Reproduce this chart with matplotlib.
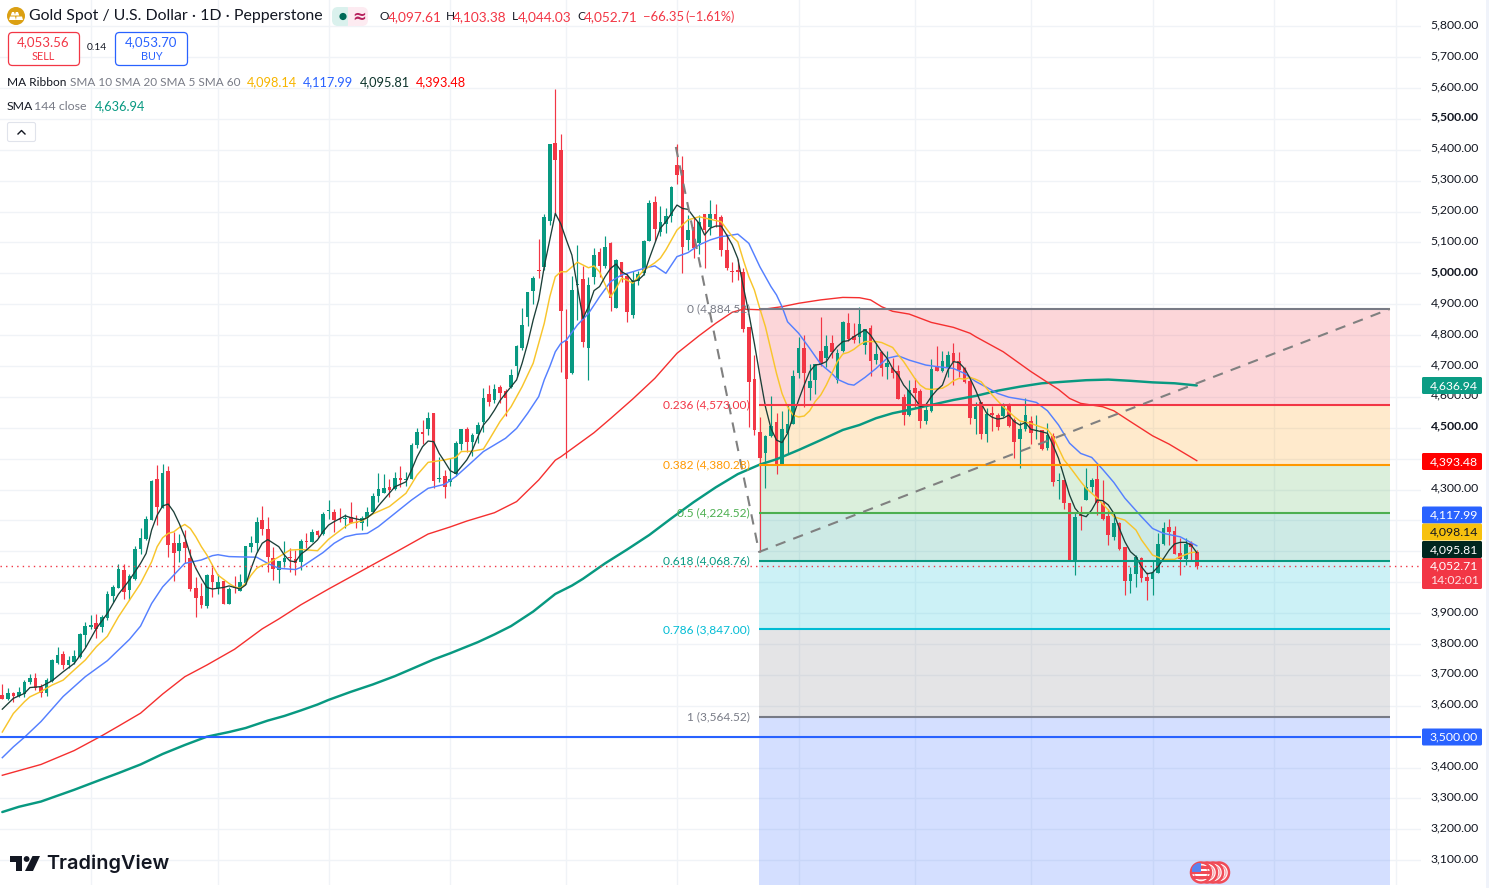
import matplotlib
matplotlib.use("Agg")
import matplotlib.pyplot as plt
from matplotlib.patches import Rectangle, FancyBboxPatch, Circle, Polygon

plt.rcParams['font.family'] = ['Lato', 'DejaVu Sans']

# Daily OHLC, oldest bar first
opens = [
    3635,3621,3642,3631,3638,3676,3690,3662,3642,3681,
    3740,3766,3732,3742,3759,3829,3854,3868,3854,3883,
    3955,3980,4039,3974,4010,4107,4140,4203,4334,4239,
    4360,4126,4100,4131,4080,3980,3955,3923,4023,3980,
    4004,3931,3988,3972,3996,4115,4127,4203,4171,4080,
    4041,4066,4083,4075,4067,4133,4131,4166,4156,4232,
    4226,4204,4204,4210,4195,4191,4207,4226,4280,4290,
    4307,4301,4336,4332,4335,4444,4486,4496,4547,4334,
    4344,4326,4349,4447,4497,4455,4479,4518,4609,4590,
    4631,4620,4633,4700,4757,4860,4943,5011,5019,5169,
    5423,5399,4781,4676,4963,4981,4759,4989,5069,5024,
    5099,4889,5036,4992,4865,4976,5000,5106,5230,5135,
    5160,5187,5351,5334,5108,5151,5097,5191,5149,5192,
    5181,5075,5009,5011,5003,4827,4658,4485,4417,4474,
    4518,4383,4482,4512,4676,4757,4628,4655,4749,4725,
    4776,4655,4749,4840,4797,4795,4768,4823,4719,4746,
    4696,4692,4685,4601,4541,4628,4619,4523,4555,4700,
    4685,4695,4743,4716,4695,4650,4528,4582,4480,4549,
    4541,4539,4576,4525,4463,4495,4522,4490,4493,4433,
    4473,4328,4331,4255,4069,4221,4266,4307,4334,4258,
    4214,4147,4193,4114,4005,4027,4077,4016,4010,4031,
    4124,4178,4165,4096,4074,4126,4097.61]
highs = [
    3672,3656,3645,3662,3685,3703,3705,3672,3689,3750,
    3789,3778,3761,3782,3836,3871,3894,3897,3894,3972,
    3991,4059,4059,4025,4117,4177,4215,4331,4379,4382,
    4376,4161,4156,4169,4109,4018,3998,4025,4050,4028,
    4004,3985,4020,4025,4117,4150,4210,4246,4210,4113,
    4068,4133,4110,4104,4140,4158,4171,4169,4228,4266,
    4236,4241,4220,4260,4218,4214,4245,4288,4352,4350,
    4333,4358,4376,4356,4450,4500,4525,4550,4547,4404,
    4363,4401,4458,4495,4504,4482,4518,4628,4638,4642,
    4638,4624,4689,4768,4887,4941,4992,5111,5192,5419,
    5597,5451,4883,4992,5092,5024,4989,5083,5081,5121,
    5101,5046,5038,5000,5009,5009,5108,5237,5250,5218,
    5210,5283,5419,5380,5189,5180,5189,5191,5237,5224,
    5189,5127,5038,5046,5016,4827,4736,4536,4477,4603,
    4547,4554,4574,4687,4795,4800,4706,4706,4860,4800,
    4800,4754,4847,4870,4838,4890,4819,4833,4773,4749,
    4749,4725,4703,4609,4655,4660,4624,4577,4722,4765,
    4749,4749,4775,4746,4698,4660,4582,4582,4563,4570,
    4549,4579,4579,4531,4520,4595,4538,4541,4493,4514,
    4482,4352,4331,4255,4223,4247,4369,4336,4382,4331,
    4236,4223,4196,4114,4050,4088,4083,4034,4072,4158,
    4196,4205,4183,4142,4142,4135,4103.38]
lows = [
    3621,3618,3613,3629,3629,3672,3651,3629,3631,3678,
    3735,3718,3721,3735,3756,3789,3850,3820,3840,3879,
    3937,3980,3947,3944,4007,4091,4136,4201,4185,4239,
    4082,4004,4066,4061,3972,3888,3915,3917,3953,3961,
    3929,3929,3966,3972,3994,4099,4099,4152,4034,4007,
    3998,4050,4034,4023,4040,4112,4129,4147,4153,4204,
    4163,4196,4174,4191,4174,4169,4182,4223,4261,4288,
    4275,4298,4309,4311,4333,4433,4447,4477,4304,4326,
    4274,4311,4345,4428,4423,4409,4450,4487,4570,4579,
    4581,4538,4628,4665,4752,4829,4901,4984,5011,5156,
    5189,4682,4403,4674,4849,4763,4655,4965,4989,5016,
    4879,4887,4973,4843,4854,4962,4995,5106,5106,5122,
    5132,5167,5288,5000,5075,5049,5062,5016,5124,5151,
    5057,5011,4971,4978,4809,4504,4477,4098,4306,4471,
    4349,4380,4419,4512,4660,4568,4590,4609,4700,4698,
    4725,4646,4746,4782,4776,4776,4739,4668,4706,4668,
    4658,4660,4593,4509,4538,4563,4500,4512,4552,4685,
    4682,4665,4638,4665,4646,4512,4480,4464,4455,4490,
    4493,4536,4504,4403,4369,4490,4447,4464,4428,4428,
    4312,4269,4238,4069,4023,4169,4266,4293,4218,4201,
    4120,4137,4104,3959,3966,3986,4002,3942,3959,4031,
    4121,4121,4091,4023,4056,4072,4044.03]
closes = [
    3622,3640,3631,3643,3678,3690,3658,3642,3685,3748,
    3764,3732,3748,3761,3832,3858,3863,3850,3888,3961,
    3985,4042,3969,4020,4109,4143,4206,4328,4244,4355,
    4120,4093,4126,4111,3978,3950,3926,4023,4001,4000,
    3931,3978,3980,4000,4116,4127,4195,4171,4082,4042,
    4068,4079,4079,4063,4133,4131,4161,4153,4221,4234,
    4201,4201,4207,4193,4191,4207,4226,4279,4302,4304,
    4298,4336,4331,4334,4444,4486,4479,4530,4329,4336,
    4309,4334,4450,4495,4455,4477,4509,4596,4582,4625,
    4614,4595,4671,4766,4833,4938,4986,5009,5183,5419,
    5367,4879,4659,4946,4965,4779,4962,5059,5024,5086,
    4921,5043,4989,4876,4978,4998,5106,5228,5142,5165,
    5187,5280,5318,5086,5140,5081,5167,5140,5192,5175,
    5075,5016,5005,5003,4819,4649,4493,4401,4473,4506,
    4377,4496,4512,4668,4758,4678,4651,4706,4706,4765,
    4746,4743,4841,4786,4784,4836,4819,4717,4739,4692,
    4709,4678,4593,4541,4622,4611,4522,4558,4690,4685,
    4716,4736,4714,4687,4649,4533,4568,4480,4545,4540,
    4504,4572,4507,4454,4495,4541,4484,4493,4431,4477,
    4325,4331,4255,4069,4210,4215,4309,4331,4255,4204,
    4153,4191,4108,4003,4027,4081,4015,4005,4029,4124,
    4176,4163,4091,4075,4124,4115,4052.71]

# Moving averages, as bar index / value pairs
sma5_bars = [0,2,4,5,7,9,11,13,15,17,19,21,23,25,26,27,28,29,30,31,32,33,34,35,36,37,38,40,41,43,44,45,46,47,48,50,51,52,53,54,55,57,58,59,60,62,63,65,66,67,68,70,71,73,74,75,76,77,78,79,80,81,82,83,84,85,86,87,88,89,90,91,92,93,94,95,96,97,98,99,100,101,102,103,104,105,106,107,108,109,110,111,112,113,114,115,116,117,118,119,120,121,122,123,124,125,126,127,128,129,130,131,132,133,134,135,136,137,138,139,140,141,142,143,144,145,146,147,148,149,150,151,152,153,154,155,156,157,158,159,160,161,162,163,164,165,166,167,168,169,170,171,172,173,174,175,176,177,178,179,180,181,182,183,184,185,186,187,188,189,190,191,192,193,194,195,196,197,198,199,200,201,202,203,204,205,206,207,208,209,210,211,212,213,214,215,216]
sma5_vals = [3589,3624,3640,3659,3662,3681,3710,3737,3786,3850,3899,3961,4007,4061,4093,4169,4217,4247,4253,4228,4190,4147,4088,4045,4012,3983,3978,3983,3988,3978,3991,4045,4093,4126,4138,4115,4088,4069,4066,4091,4104,4137,4164,4185,4196,4215,4209,4201,4209,4223,4247,4288,4309,4325,4363,4406,4439,4457,4455,4417,4390,4361,4352,4374,4396,4428,4471,4509,4530,4557,4588,4611,4633,4655,4709,4773,4849,4914,5022,5108,5194,5160,5108,5059,4957,4854,4892,4944,4957,4989,5016,5030,5005,4995,4973,4978,4995,5048,5097,5146,5167,5194,5221,5210,5207,5183,5162,5124,5146,5153,5153,5124,5092,5048,4957,4870,4773,4668,4568,4498,4460,4452,4482,4536,4590,4638,4682,4703,4706,4714,4741,4763,4779,4782,4795,4806,4817,4800,4773,4746,4725,4692,4671,4638,4617,4595,4568,4574,4601,4622,4638,4687,4714,4711,4692,4660,4622,4579,4547,4534,4528,4531,4541,4520,4509,4517,4495,4491,4487,4482,4444,4401,4342,4282,4239,4218,4212,4234,4266,4264,4250,4223,4174,4131,4099,4083,4050,4027,4031,4050,4077,4104,4124,4129,4129,4120,4095.81]

sma10_bars = [0,2,4,5,7,9,11,13,15,17,19,21,23,25,27,28,29,30,31,32,33,34,35,36,37,38,39,41,42,43,44,45,46,47,48,50,52,54,57,59,62,63,65,67,70,73,75,77,80,82,83,85,87,88,90,92,94,96,98,99,100,101,102,104,106,107,108,110,111,112,113,114,115,116,118,119,120,121,122,124,126,128,130,132,133,134,135,136,137,138,139,140,141,142,143,144,145,146,147,148,149,150,151,152,153,154,155,156,158,159,160,161,162,163,164,165,166,167,168,170,171,172,173,174,175,176,177,179,181,183,184,186,189,190,192,193,195,196,198,200,201,203,205,206,208,210,212,213,215,216]
sma10_vals = [3515,3575,3613,3629,3646,3667,3683,3716,3748,3791,3825,3888,3942,3996,4066,4115,4144,4158,4163,4177,4187,4174,4147,4115,4088,4055,4023,3996,3985,3980,3996,4023,4045,4055,4061,4082,4104,4106,4102,4139,4180,4191,4198,4221,4245,4288,4347,4388,4396,4404,4423,4424,4431,4460,4520,4568,4633,4709,4838,4924,4989,5005,5005,5036,5018,5024,5005,4924,4951,4984,4978,4968,4989,5011,5034,5049,5076,5108,5140,5173,5183,5175,5167,5119,5102,5043,4989,4946,4885,4827,4752,4676,4611,4568,4541,4535,4538,4555,4585,4606,4638,4676,4714,4739,4744,4754,4768,4779,4779,4776,4768,4760,4736,4714,4687,4660,4638,4626,4624,4628,4638,4652,4660,4657,4663,4657,4649,4606,4568,4536,4522,4514,4495,4471,4396,4374,4326,4304,4272,4234,4212,4201,4169,4137,4088,4074,4074,4083,4096,4098.14]

sma20_bars = [0,2,4,7,11,15,19,23,25,27,29,31,33,36,38,39,41,43,46,48,50,53,54,56,58,60,62,64,66,68,71,74,77,80,82,84,87,91,93,95,97,98,99,100,101,102,104,106,108,110,112,114,116,118,120,122,124,126,128,130,131,133,135,137,139,140,141,142,144,146,148,150,151,153,154,156,158,160,162,164,167,169,172,174,176,178,180,182,185,187,189,191,193,195,197,199,201,203,206,208,210,213,216]
sma20_vals = [3432,3467,3498,3549,3630,3694,3746,3815,3858,3931,3985,4023,4061,4072,4086,4089,4083,4082,4081,4061,4045,4041,4048,4072,4096,4126,4147,4155,4158,4180,4223,4266,4304,4317,4342,4374,4423,4466,4498,4547,4601,4655,4698,4746,4773,4784,4833,4870,4924,4973,4995,5005,5016,5024,5000,5054,5067,5092,5108,5119,5121,5127,5097,5021,4957,4930,4892,4843,4806,4757,4706,4676,4657,4641,4638,4663,4692,4725,4733,4719,4703,4698,4692,4676,4650,4631,4611,4599,4590,4582,4555,4509,4450,4417,4404,4365,4323,4272,4212,4174,4158,4147,4117.99]

sma60_bars = [0,3,7,13,18,21,25,29,33,37,42,47,50,54,59,65,72,77,81,84,89,93,97,100,101,105,107,110,114,118,122,126,129,132,134,137,141,144,148,152,155,157,159,161,164,168,172,175,176,181,186,189,191,193,195,199,201,204,208,211,216]
sma60_vals = [3375,3390,3410,3455,3503,3534,3576,3638,3694,3732,3783,3849,3881,3927,3978,4037,4106,4156,4179,4198,4225,4261,4331,4395,4406,4458,4484,4530,4593,4660,4741,4798,4838,4874,4884,4882,4892,4903,4914,4922,4921,4914,4892,4877,4868,4841,4825,4806,4795,4746,4682,4647,4624,4595,4579,4568,4555,4520,4474,4447,4393.48]

sma144_bars = [0,3,7,10,13,18,21,25,29,33,37,41,44,48,51,54,57,59,63,67,71,74,78,81,86,89,92,96,100,103,105,109,113,117,121,125,129,133,137,140,144,148,152,155,158,161,164,168,172,176,180,184,188,192,196,200,204,208,212,216]
sma144_vals = [3256,3273,3290,3309,3328,3362,3382,3410,3444,3473,3500,3515,3528,3552,3567,3585,3604,3619,3645,3669,3696,3719,3750,3770,3806,3831,3858,3905,3962,3989,4011,4061,4106,4153,4207,4259,4307,4350,4381,4398,4428,4460,4493,4509,4531,4547,4558,4574,4590,4603,4620,4633,4644,4649,4654,4656,4652,4647,4644,4636.94]

# Fibonacci retracement drawn across the right-hand part of the chart
fib_ratios = ['0', '0.236', '0.382', '0.5', '0.618', '0.786', '1']
fib_prices = [4884.52, 4573.00, 4380.28, 4224.52, 4068.76, 3847.00, 3564.52]
fib_colors = ['#787b86', '#f23645', '#ff9800', '#4caf50', '#089981', '#00bcd4', '#787b86']
band_colors = ['#f23645', '#ff9800', '#4caf50', '#089981', '#00bcd4', '#787b86', '#2962ff']
fib_start, fib_end = 136.85, 250.9

# Zig-zag trend line
trend_bars = [121.8, 136.85, 250.9]
trend_prices = [5409, 4098, 4884.52]

support_level = 3500.0
last_price = 4052.71

axis_levels = [5800,5700,5600,5500,5400,5300,5200,5100,5000,4900,4800,4700,4600,4500,4400,
               4300,4200,4100,4000,3900,3800,3700,3600,3500,3400,3300,3200,3100]
major_levels = [5500, 5000, 4500]
tagged_levels = [4400, 4200, 4100, 4000, 3500]
month_starts = [16, 39, 59, 81, 102, 122, 144, 165, 186, 208, 230, 252]

UP, DOWN = '#089981', '#f23645'
GRID = '#f0f3f7'
INK = '#131722'

W, H = 1489, 888
PLOT_R, PLOT_B = 1421, 885
BAR_STEP = 5.53
fig = plt.figure(figsize=(W / 100, H / 100), dpi=100, facecolor='white')
ax = fig.add_axes([0, 1 - PLOT_B / H, PLOT_R / W, PLOT_B / H])
ax.set_xlim(-2.3 / BAR_STEP, (PLOT_R - 2.3) / BAR_STEP)
ax.set_ylim(5884.8 - 3.2373 * PLOT_B, 5884.8)
for s in ax.spines.values():
    s.set_visible(False)

# Gridlines on round prices and month starts
ax.set_yticks(axis_levels)
ax.set_xticks(month_starts)
ax.tick_params(length=0, labelbottom=False, labelleft=False)
ax.grid(True, color=GRID, lw=1)
ax.set_axisbelow(True)

# Price scale on the right; round levels are heavier, levels under a price tag stay unlabelled
for v in axis_levels:
    if v not in tagged_levels:
        ax.annotate(f'{v:,.2f}', (1, v), xycoords=ax.get_yaxis_transform(), xytext=(7, 1.1),
                    textcoords='offset points', ha='left', va='center', fontsize=8.8, color=INK,
                    fontweight='bold' if v in major_levels else 'normal', annotation_clip=False)

# Fibonacci bands sit behind the price series
band_edges = fib_prices + [ax.get_ylim()[0]]
for top, bot, col in zip(band_edges[:-1], band_edges[1:], band_colors):
    ax.fill_between([fib_start, fib_end], bot, top, color=col, alpha=0.2, lw=0, zorder=2)

# Candles
bars = range(len(opens))
colors = [UP if c >= o else DOWN for o, c in zip(opens, closes)]
ax.vlines(bars, lows, highs, colors=colors, lw=0.85, zorder=3)
ax.bar(bars, [max(abs(c - o), 3) for o, c in zip(opens, closes)],
       bottom=[min(o, c) for o, c in zip(opens, closes)],
       width=0.66, color=colors, lw=0, zorder=3)

# Moving averages
ax.plot(sma144_bars, sma144_vals, color='#089981', lw=1.75, zorder=4, solid_capstyle='round')
ax.plot(sma60_bars, sma60_vals, color='#f52f2f', lw=1.0, zorder=4)
ax.plot(sma20_bars, sma20_vals, color='#5580ff', lw=1.05, zorder=4)
ax.plot(sma10_bars, sma10_vals, color='#f8c52c', lw=1.05, zorder=4)
ax.plot(sma5_bars, sma5_vals, color='#1b3f38', lw=0.95, zorder=4)

# Fibonacci levels and their captions
for ratio, price, col in zip(fib_ratios, fib_prices, fib_colors):
    ax.plot([fib_start, fib_end], [price, price], color=col, lw=1.5, zorder=6, solid_capstyle='butt')
    ax.annotate(f'{ratio} ({price:,.2f})', (fib_start, price), xytext=(-6.5, 0),
                textcoords='offset points', ha='right', va='center',
                fontsize=8.6, color=col, zorder=8)

ax.plot(trend_bars, trend_prices, color='#808080', lw=1.5, dashes=(5, 4), zorder=6)
ax.axhline(support_level, color='#2962ff', lw=1.5, zorder=7)
ax.axhline(last_price, color='#f23645', lw=1.0, dashes=(1, 3), zorder=7)

# Overlay in pixel coordinates for the header, price tags and logo
ov = fig.add_axes([0, 0, 1, 1], facecolor='none')
ov.set_xlim(0, W)
ov.set_ylim(H, 0)
ov.axis('off')


def txt(x, y, s, color=INK, size=8.8, ha='left', **kw):
    return ov.text(x, y, s, color=color, fontsize=size, ha=ha, va='center', **kw)


# Price tags on the scale
tags = [
    (385.5, '4,636.94', '#0b9c84', 'white'),
    (461.5, '4,393.48', '#ff0000', 'white'),
    (515, '4,117.99', '#2962ff', 'white'),
    (532, '4,098.14', '#f7c10e', INK),
    (549.5, '4,095.81', '#00261f', 'white'),
    (737, '3,500.00', '#2962ff', 'white'),
]
for yc, s, bg, fg in tags:
    ov.add_patch(FancyBboxPatch((1423, yc - 7.5), 58, 15, boxstyle='round,pad=1,rounding_size=1.5',
                                fc=bg, ec='none', zorder=5))
    txt(1430, yc, s, color=fg, zorder=6)
ov.add_patch(FancyBboxPatch((1423, 559), 58, 29, boxstyle='round,pad=1,rounding_size=1.5',
                            fc='#f23645', ec='none', zorder=5))
txt(1430, 566, '4,052.71', color='white', zorder=6)
txt(1430, 580, '14:02:01', color='#ffe0e3', zorder=6)
ov.add_patch(Rectangle((1486, 0), 3, H, fc='#f0f3fa', ec='none', zorder=1))

# Symbol header
ov.add_patch(Circle((16, 16), 9, fc='#dba013', ec='none'))
for pts in ([(12, 12), (14, 12), (15.3, 15.5), (10.7, 15.5)],
            [(15.8, 12), (18, 12), (19.3, 15.5), (14.8, 15.5)],
            [(10, 16.5), (15, 16.5), (16, 20), (9, 20)],
            [(16.5, 16.5), (22, 16.5), (23, 20), (16, 20)]):
    ov.add_patch(Polygon(pts, fc='white', ec='none'))
txt(29, 16, 'Gold Spot / U.S. Dollar · 1D · Pepperstone', size=11.45)
ov.add_patch(FancyBboxPatch((334, 9), 16, 15, boxstyle='round,pad=2,rounding_size=6', fc='#daf1ed', ec='none'))
ov.add_patch(FancyBboxPatch((352, 9), 14, 15, boxstyle='round,pad=2,rounding_size=6', fc='#fdebf1', ec='none'))
ov.add_patch(Rectangle((348, 7), 6, 19, fc='#fdebf1', ec='none'))
ov.add_patch(Circle((343, 16.5), 3.6, fc='#006a58', ec='none'))
txt(359, 16.5, '≈', color='#b7225e', size=12, ha='center', family=['DejaVu Sans'], fontweight='bold')
for x, s, c, sz in [(380, 'O', INK, 8.6), (388, '4,097.61', DOWN, 9.8), (446, 'H', INK, 8.6), (453, '4,103.38', DOWN, 9.8),
                    (512, 'L', INK, 8.6), (518, '4,044.03', DOWN, 9.8), (577, 'C', INK, 8.6), (584, '4,052.71', DOWN, 9.8),
                    (643, '−66.35', DOWN, 9.4), (685, '(−1.61%)', DOWN, 9.1)]:
    txt(x, 17, s, color=c, size=sz)

# Quote buttons
ov.add_patch(FancyBboxPatch((10, 34), 68, 30, boxstyle='round,pad=1.5,rounding_size=4', fc='white', ec=DOWN, lw=0.9))
ov.add_patch(FancyBboxPatch((117, 34), 69, 30, boxstyle='round,pad=1.5,rounding_size=4', fc='white', ec='#2962ff', lw=0.9))
txt(43.5, 42, '4,053.56', color=DOWN, ha='center', size=9.5)
txt(43.5, 56, 'SELL', color=DOWN, ha='center', size=7.8)
txt(97, 48, '0.14', ha='center', size=7.4)
txt(151.5, 42, '4,053.70', color='#2962ff', ha='center', size=9.5)
txt(151.5, 56, 'BUY', color='#2962ff', ha='center', size=7.8)

# Indicator legend
txt(7, 82.5, 'MA Ribbon', size=8.6)
txt(70, 82.5, 'SMA 10 SMA 20 SMA 5 SMA 60', color='#787b86', size=8.45)
for x, s, c in [(247, '4,098.14', '#f7b500'), (303, '4,117.99', '#2962ff'),
                (360, '4,095.81', '#0c332b'), (416, '4,393.48', '#ff0000')]:
    txt(x, 82.5, s, color=c, size=9.2)
txt(7, 106.5, 'SMA', size=8.8)
txt(34, 106.5, '144 close', color='#787b86', size=8.9)
txt(95, 106.5, '4,636.94', color='#089981', size=9.2)
ov.add_patch(FancyBboxPatch((8, 123), 27, 18, boxstyle='round,pad=0.5,rounding_size=2', fc='white', ec='#e0e3eb', lw=0.8))
ov.plot([18, 21.5, 25], [134, 130.5, 134], color=INK, lw=1)

# Logo
ov.add_patch(Polygon([(10, 856), (22, 856), (22, 871), (16, 871), (16, 862), (10, 862)], fc='#131722', ec='none'))
ov.add_patch(Circle((26.6, 859), 2.9, fc='#131722', ec='none'))
ov.add_patch(Polygon([(32.5, 856), (40, 856), (33, 871), (25, 871)], fc='#131722', ec='none'))
txt(46.5, 864, 'TradingView', size=14.35, fontweight='semibold', family=['Inter', 'Lato'])

# Event markers along the time axis
for i, xc in enumerate([1219, 1213, 1207, 1201]):
    disc = Circle((xc, 872.5), 10, fc='white', ec='#f04a56', lw=1.8, zorder=10 + i)
    ov.add_patch(disc)
    inner = Circle((xc, 872.5), 7, fc='none', ec='#f7a5ac', lw=1.0, zorder=10 + i)
    ov.add_patch(inner)
    if xc == 1201:
        for ys in (866, 871, 876):
            s = Rectangle((xc - 10, ys), 20, 2.6, fc='#f04a56', ec='none', zorder=14)
            ov.add_patch(s)
            s.set_clip_path(disc)
        c = Rectangle((xc - 9, 863), 9, 8.5, fc='#5a84f0', ec='none', zorder=15)
        ov.add_patch(c)
        c.set_clip_path(disc)

fig.savefig('out.png', dpi=100)
